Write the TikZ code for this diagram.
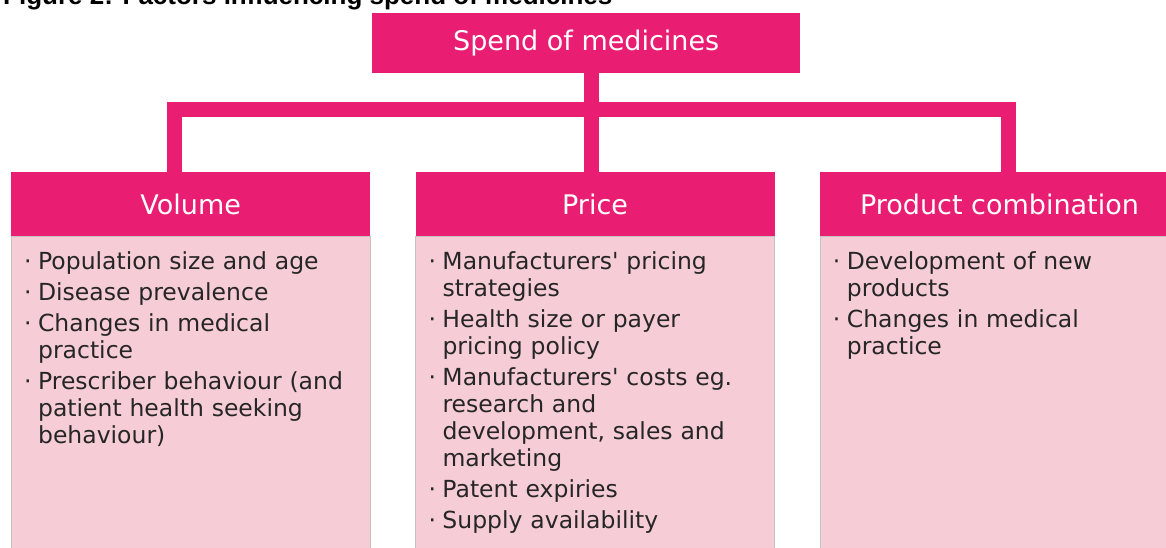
\documentclass[tikz,border=0pt]{standalone}
\usepackage{fontspec}
\setmainfont{DejaVu Sans}
\newfontfamily\captionfont{Liberation Sans}
\usetikzlibrary{positioning}

\definecolor{spendpink}{RGB}{233,30,115}
\definecolor{listpink}{RGB}{246,204,214}
\definecolor{listgrey}{RGB}{195,195,195}
\definecolor{listtext}{RGB}{38,38,38}

% one bullet point, later lines hang under the text
\newcommand{\factor}{\par\noindent\hangindent=14pt\hangafter=1\makebox[14pt][l]{·}}

\begin{document}
\begin{tikzpicture}[x=1pt,y=-1pt]
    \tikzset{head/.style={fill=spendpink, text=white, minimum width=359pt, minimum height=64pt, inner sep=0pt, font=\fontsize{27}{30}\selectfont}}
    \tikzset{body/.style={fill=listpink, draw=listgrey, line width=0.6pt, minimum width=359pt, minimum height=330pt, inner sep=0pt}}
    \tikzset{factors/.style={text=listtext, text width=340pt, align=left, inner sep=0pt, anchor=north west, font=\fontsize{23.5}{27}\selectfont, execute at begin node=\setlength{\parskip}{4pt}}}
    \tikzset{link/.style={draw=spendpink, line width=15pt}}
    \useasboundingbox (0,0) rectangle (1166,547);
    \clip (0,0) rectangle (1166,547);

    % caption, cut by the top edge
    \node[anchor=base west, inner sep=0pt, font=\captionfont\bfseries\fontsize{26}{30}\selectfont] (caption) at (3,4) {Figure 2: Factors influencing spend of medicines};

    \node[head, minimum width=428pt, minimum height=60pt, anchor=north west] (spend) at (372,13) {Spend of medicines};

    \node[head, anchor=north west] (volume) at (11,172) {Volume};
    \node[head, right=45pt of volume] (price) {Price};
    \node[head, right=45pt of price] (combo) {Product combination};

    \node[body, below=0pt of volume] (volumelist) {};
    \node[body, below=0pt of price] (pricelist) {};
    \node[body, below=0pt of combo] (combolist) {};

    % connectors
    \coordinate (fork) at (591,109.5);
    \coordinate (leftdrop) at (174.5,109.5);
    \coordinate (rightdrop) at (1008,109.5);
    \draw[link] (spend.south -| fork) -- (price.north -| fork);
    \draw[link] (volume.north -| leftdrop) |- (rightdrop) -- (combo.north -| rightdrop);

    \node[factors] (volumetext) at ([xshift=13pt,yshift=-1.5pt]volumelist.north west) {
        \factor Population size and age
        \factor Disease prevalence
        \factor Changes in medical\newline practice
        \factor Prescriber behaviour (and\newline patient health seeking\newline behaviour)\par};
    \node[factors] (pricetext) at ([xshift=13pt,yshift=-1.5pt]pricelist.north west) {
        \factor Manufacturers\textquotesingle{} pricing\newline strategies
        \factor Health size or payer\newline pricing policy
        \factor Manufacturers\textquotesingle{} costs eg.\newline research and\newline development, sales and\newline marketing
        \factor Patent expiries
        \factor Supply availability\par};
    \node[factors] (combotext) at ([xshift=13pt,yshift=-1.5pt]combolist.north west) {
        \factor Development of new\newline products
        \factor Changes in medical\newline practice\par};
\end{tikzpicture}
\end{document}
